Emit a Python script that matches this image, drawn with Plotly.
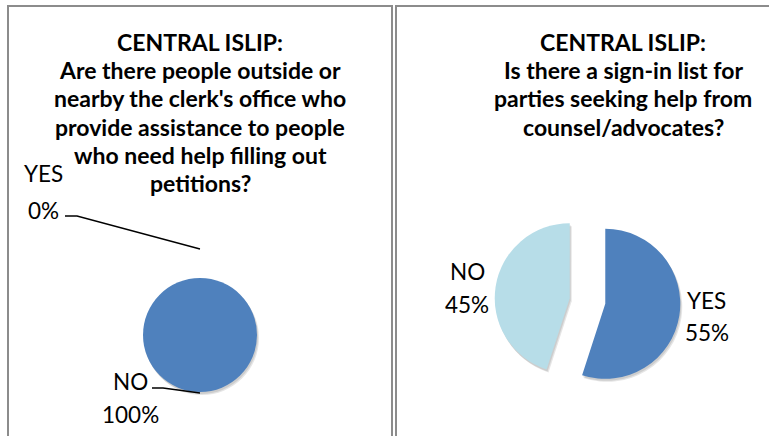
import plotly.graph_objects as go

# データ
LEFT_TITLE = [
    "CENTRAL ISLIP:",
    "Are there people outside or",
    "nearby the clerk's office who",
    "provide assistance to people",
    "who need help filling out",
    "petitions?",
]
LEFT_LABELS = ["YES", "NO"]
LEFT_VALUES = [0, 100]

RIGHT_TITLE = [
    "CENTRAL ISLIP:",
    "Is there a sign-in list for",
    "parties seeking help from",
    "counsel/advocates?",
]
RIGHT_LABELS = ["YES", "NO"]
RIGHT_VALUES = [55, 45]

W, H = 769, 436
DARK_BLUE = "#4F81BD"
LIGHT_BLUE = "#B7DDE8"
BORDER = "#8c8c8c"
TEXT = "#000000"
FONT = "Lato"
TITLE_SIZE = 23
LABEL_SIZE = 22.5


def px(x):
    return x / W


def py(y):
    return 1 - y / H


def dom(cx, cy, r):
    return dict(x=[px(cx - r), px(cx + r)], y=[py(cy + r), py(cy - r)])


fig = go.Figure()

# --- 影 ---
for dx, dy, a in [(2, 3, 0.10), (1, 2, 0.10)]:
    fig.add_trace(go.Pie(
        labels=LEFT_LABELS, values=LEFT_VALUES, sort=False,
        direction="clockwise", rotation=0, textinfo="none", hoverinfo="skip",
        marker=dict(colors=[f"rgba(0,0,0,{a})"] * 2, line=dict(width=0)),
        domain=dom(200 + dx, 335 + dy, 57), showlegend=False,
    ))
    fig.add_trace(go.Pie(
        labels=RIGHT_LABELS, values=RIGHT_VALUES, sort=False,
        direction="clockwise", rotation=0, textinfo="none", hoverinfo="skip",
        pull=[0.24, 0.24],
        marker=dict(colors=[f"rgba(0,0,0,{a})"] * 2, line=dict(width=0)),
        domain=dom(587.5 + dx, 301 + dy, 93), showlegend=False,
    ))

# --- 左の円グラフ ---
fig.add_trace(go.Pie(
    labels=LEFT_LABELS, values=LEFT_VALUES, sort=False,
    direction="clockwise", rotation=0, textinfo="none",
    marker=dict(colors=[DARK_BLUE, DARK_BLUE], line=dict(width=0)),
    domain=dom(200, 335, 57), showlegend=False,
))

# --- 右の円グラフ ---
fig.add_trace(go.Pie(
    labels=RIGHT_LABELS, values=RIGHT_VALUES, sort=False,
    direction="clockwise", rotation=0, textinfo="none",
    pull=[0.24, 0.24],
    marker=dict(colors=[DARK_BLUE, LIGHT_BLUE], line=dict(width=0)),
    domain=dom(587.5, 301, 93), showlegend=False,
))

annotations = []


# タイトル（1行ずつ）
def add_title(lines, cx):
    for i, line in enumerate(lines):
        base = 49.5 + 28.3 * i
        annotations.append(dict(
            text=f"<b>{line}</b>", x=px(cx), y=py(base - 0.34 * TITLE_SIZE),
            xref="paper", yref="paper", showarrow=False,
            xanchor="center", yanchor="middle",
            font=dict(family=FONT, size=TITLE_SIZE, color=TEXT),
        ))


add_title(LEFT_TITLE, 200)
add_title(RIGHT_TITLE, 623)


def total_pct(values, i):
    return round(100 * values[i] / sum(values))


# データラベル（ラベルと割合を別行で）
label_pos = [
    (LEFT_LABELS[0], total_pct(LEFT_VALUES, 0), 43, 173, 210),
    (LEFT_LABELS[1], total_pct(LEFT_VALUES, 1), 130, 381, 414),
    (RIGHT_LABELS[0], total_pct(RIGHT_VALUES, 0), 706.5, 300, 332),
    (RIGHT_LABELS[1], total_pct(RIGHT_VALUES, 1), 467, 271, 304),
]
for name, pct, x, y1, y2 in label_pos:
    for txt, yy in [(name, y1), (f"{pct}%", y2)]:
        annotations.append(dict(
            text=txt, x=px(x), y=py(yy), xref="paper", yref="paper",
            showarrow=False, xanchor="center", yanchor="middle",
            font=dict(family=FONT, size=LABEL_SIZE, color=TEXT),
        ))

shapes = [
    # パネル枠
    dict(type="rect", xref="paper", yref="paper",
         x0=px(8), x1=px(392), y0=py(445), y1=py(6),
         line=dict(color=BORDER, width=2)),
    dict(type="rect", xref="paper", yref="paper",
         x0=px(396), x1=px(780), y0=py(445), y1=py(6),
         line=dict(color=BORDER, width=2)),
    # 引き出し線
    dict(type="path", xref="paper", yref="paper",
         path=f"M {px(65)},{py(216)} L {px(77)},{py(216)} L {px(200)},{py(249)}",
         line=dict(color="#000000", width=1.3)),
    dict(type="path", xref="paper", yref="paper",
         path=f"M {px(152)},{py(388)} L {px(163)},{py(388)} L {px(200)},{py(393)}",
         line=dict(color="#000000", width=1.3)),
]

fig.update_layout(
    width=W, height=H,
    margin=dict(l=0, r=0, t=0, b=0),
    paper_bgcolor="#FFFFFF",
    plot_bgcolor="#FFFFFF",
    annotations=annotations,
    shapes=shapes,
    showlegend=False,
)

# ページ既定の余白を消す、モードバーも非表示
fig.write_html(
    "out.html",
    config={"displayModeBar": False},
    post_script="document.body.style.margin='0';",
)
